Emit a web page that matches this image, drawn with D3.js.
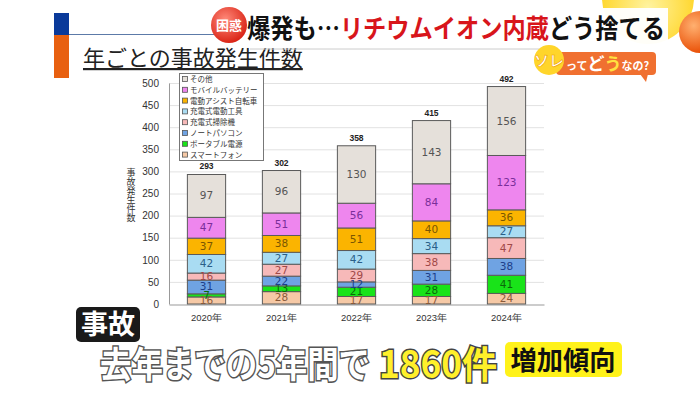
<!DOCTYPE html>
<html><head><meta charset="utf-8">
<script src="https://cdn.jsdelivr.net/npm/d3@7"></script>
<style>
html,body{margin:0;padding:0;background:#fff;}
svg{display:block;font-family:"Noto Sans CJK JP","Noto Sans",sans-serif;}
</style></head>
<body>
<svg id="c" width="700" height="393"></svg>
<script>
const years = ["2020年","2021年","2022年","2023年","2024年"];
const seriesNames = ["スマートフォン","ポータブル電源","ノートパソコン","充電式掃除機","充電式電動工具","電動アシスト自転車","モバイルバッテリー","その他"];
const smartphone   = [16,28,17,17,24];
const portable     = [7,13,21,28,41];
const notebook     = [31,22,12,31,38];
const vacuum       = [16,27,29,38,47];
const powerTool    = [42,27,42,34,27];
const eBike        = [37,38,51,40,36];
const mobileBat    = [47,51,56,84,123];
const others       = [97,96,130,143,156];
const totals       = [293,302,358,415,492];
const yTicks       = [0,50,100,150,200,250,300,350,400,450,500];

const seriesValues = [smartphone,portable,notebook,vacuum,powerTool,eBike,mobileBat,others];
const fills = ["#f6c9a6","#19e319","#6fa3e3","#f7b9b9","#a9dcf2","#fbb400","#ee86ee","#e5e0da"];
const labelColors = ["#8a5a3a","#0a6a0a","#1d3f8a","#a04848","#2a5f88","#7a5600","#7a2e9a","#555"];

const svg = d3.select("#c");

// ---------- header ----------
svg.append("rect").attr("x",54).attr("y",13).attr("width",15).attr("height",22).attr("fill","#0a3a9a");
svg.append("rect").attr("x",54).attr("y",35).attr("width",15).attr("height",43).attr("fill","#e86010");
svg.append("line").attr("x1",69).attr("x2",260).attr("y1",34.5).attr("y2",34.5).attr("stroke","#5c7aa8").attr("stroke-width",1.2);
svg.append("text").attr("x",83).attr("y",66).attr("font-size",22).attr("fill","#222")
  .attr("text-decoration","underline").text("年ごとの事故発生件数");

// top banner decorations
const defs = svg.append("defs");
const rg = defs.append("radialGradient").attr("id","redg").attr("cx","40%").attr("cy","35%").attr("r","70%");
rg.append("stop").attr("offset","0%").attr("stop-color","#ff8a7a");
rg.append("stop").attr("offset","100%").attr("stop-color","#d81e10");
const og = defs.append("radialGradient").attr("id","orgg").attr("cx","35%").attr("cy","35%").attr("r","70%");
og.append("stop").attr("offset","0%").attr("stop-color","#ffb070");
og.append("stop").attr("offset","100%").attr("stop-color","#e84a00");
const yg = defs.append("radialGradient").attr("id","yelg").attr("cx","50%").attr("cy","60%").attr("r","60%");
yg.append("stop").attr("offset","0%").attr("stop-color","#fff3a0");
yg.append("stop").attr("offset","100%").attr("stop-color","#ffd21a");
svg.append("circle").attr("cx",648).attr("cy",-2).attr("r",46).attr("fill","url(#yelg)");
svg.append("circle").attr("cx",700).attr("cy",32).attr("r",21).attr("fill","url(#orgg)");
svg.append("rect").attr("x",240).attr("y",8).attr("width",428).attr("height",40).attr("fill","#fff").attr("opacity",0.96);
svg.append("line").attr("x1",250).attr("x2",540).attr("y1",49).attr("y2",49).attr("stroke","#ccc").attr("stroke-width",1);
svg.append("circle").attr("cx",229).attr("cy",25).attr("r",18).attr("fill","url(#redg)");
svg.append("text").attr("x",229).attr("y",30).attr("text-anchor","middle").attr("font-size",13).attr("font-weight","bold").attr("fill","#fff").text("困惑");
const ttl = svg.append("text").attr("x",247).attr("y",38).attr("font-size",26).attr("font-weight","bold")
  .attr("textLength",418).attr("lengthAdjust","spacingAndGlyphs");
ttl.append("tspan").attr("fill","#111").text("爆発も…");
ttl.append("tspan").attr("fill","#d8151b").text("リチウムイオン内蔵");
ttl.append("tspan").attr("fill","#111").text("どう捨てる");

// ソレってどうなの? bubble
svg.append("rect").attr("x",556).attr("y",52).attr("width",100).attr("height",23).attr("rx",4).attr("fill","#f07030");
svg.append("path").attr("d","M640,74 L646,82 L648,74 Z").attr("fill","#f07030");
svg.append("circle").attr("cx",549).attr("cy",60).attr("r",15).attr("fill","#ffd52a");
svg.append("text").attr("x",549).attr("y",66).attr("text-anchor","middle").attr("font-size",15).attr("font-weight","bold").attr("fill","#fff").attr("stroke","#f0a000").attr("stroke-width",0.6).text("ソレ");
const bt = svg.append("text").attr("x",566).attr("y",70).attr("font-weight","bold").attr("fill","#fff");
bt.append("tspan").attr("font-size",11).text("って");
bt.append("tspan").attr("font-size",17).text("ど");
bt.append("tspan").attr("font-size",17).attr("fill","#ffe040").text("う");
bt.append("tspan").attr("font-size",11).text("なの?");

// ---------- chart ----------
const x = d3.scaleBand().domain(years).range([169,544]).paddingInner(0.49).paddingOuter(0.245);
const y = d3.scaleLinear().domain([0,500]).range([304,83]);

// gridlines
svg.append("g").selectAll("line").data(yTicks.filter(d=>d>0)).join("line")
  .attr("x1",169).attr("x2",544).attr("y1",d=>y(d)+0.5).attr("y2",d=>y(d)+0.5)
  .attr("stroke","#e2e2e2").attr("stroke-width",1);

// y axis
const yAxis = svg.append("g").attr("transform","translate(169,0)")
  .call(d3.axisLeft(y).tickValues(yTicks).tickSize(0).tickPadding(10));
yAxis.select(".domain").attr("stroke","#999");
yAxis.selectAll("text").attr("font-size",10).attr("fill","#333").attr("font-family","Liberation Sans, Arial, sans-serif");

// x axis
const xAxis = svg.append("g").attr("transform","translate(0,304.5)")
  .call(d3.axisBottom(x).tickSize(0).tickPadding(10));
xAxis.select(".domain").attr("stroke","#999");
xAxis.selectAll("text").attr("font-size",9.5).attr("fill","#333");

// y title vertical
svg.append("text").attr("transform","translate(131,168)").attr("font-size",9).attr("fill","#333")
  .attr("writing-mode","tb").attr("glyph-orientation-vertical",0).text("事故発生件数");

// stack
const rows = years.map((yr,i)=>{const o={year:yr}; seriesNames.forEach((s,k)=>o[s]=seriesValues[k][i]); return o;});
const stack = d3.stack().keys(seriesNames)(rows);

const g = svg.append("g");
stack.forEach((layer,k)=>{
  const lg = g.append("g");
  lg.selectAll("rect").data(layer).join("rect")
    .attr("x",d=>x(d.data.year)).attr("width",x.bandwidth())
    .attr("y",d=>y(d[1])).attr("height",d=>y(d[0])-y(d[1]))
    .attr("fill",fills[k]).attr("stroke","#5a5a5a").attr("stroke-width",1);
});
stack.forEach((layer,k)=>{
  g.append("g").selectAll("text").data(layer).join("text")
    .attr("x",d=>x(d.data.year)+x.bandwidth()/2)
    .attr("y",d=>(y(d[0])+y(d[1]))/2+3.5)
    .attr("text-anchor","middle").attr("font-size",10.5)
    .attr("font-family","DejaVu Sans, sans-serif")
    .attr("fill",labelColors[k]).text(d=>d[1]-d[0]);
});

// totals
g.selectAll("text.tot").data(years).join("text").attr("class","tot")
  .attr("x",d=>x(d)+x.bandwidth()/2).attr("y",(d,i)=>y(totals[i])-5)
  .attr("text-anchor","middle").attr("font-size",8.5).attr("font-weight","bold")
  .attr("font-family","Liberation Sans, Arial, sans-serif").attr("fill","#222").text((d,i)=>totals[i]);

// legend
const leg = svg.append("g");
leg.append("rect").attr("x",179.5).attr("y",73.5).attr("width",84).attr("height",87).attr("fill","#fff").attr("stroke","#777");
const legOrder = seriesNames.slice().reverse();
legOrder.forEach((name,i)=>{
  const k = seriesNames.indexOf(name);
  const yy = 79+i*10.8;
  leg.append("rect").attr("x",182.5).attr("y",yy-2.5).attr("width",5).attr("height",5).attr("fill",fills[k]).attr("stroke","#555").attr("stroke-width",0.8);
  leg.append("text").attr("x",190).attr("y",yy+3).attr("font-size",7.5).attr("fill","#333").text(name);
});

// ---------- bottom captions ----------
svg.append("rect").attr("x",76).attr("y",307).attr("width",64).attr("height",35).attr("rx",5).attr("fill","#1a1a1a");
svg.append("text").attr("x",108).attr("y",334).attr("text-anchor","middle").attr("font-size",27).attr("font-weight","bold").attr("fill","#fff").text("事故");

svg.append("text").attr("x",100).attr("y",378).attr("font-size",36).attr("font-weight","bold")
  .attr("fill","#fff").attr("stroke","#555").attr("stroke-width",3).attr("paint-order","stroke")
  .attr("textLength",270).attr("lengthAdjust","spacingAndGlyphs").text("去年までの5年間で");
svg.append("text").attr("x",379).attr("y",378).attr("font-size",38).attr("font-weight","bold")
  .attr("fill","#fff02a").attr("stroke","#444").attr("stroke-width",3).attr("paint-order","stroke")
  .attr("textLength",118).attr("lengthAdjust","spacingAndGlyphs").text("1860件");
svg.append("rect").attr("x",505).attr("y",342).attr("width",117).attr("height",35).attr("rx",5).attr("fill","#fff21a");
svg.append("text").attr("x",563).attr("y",370).attr("text-anchor","middle").attr("font-size",26).attr("font-weight","bold")
  .attr("fill","#111").attr("textLength",105).attr("lengthAdjust","spacingAndGlyphs").text("増加傾向");
</script>
</body></html>
